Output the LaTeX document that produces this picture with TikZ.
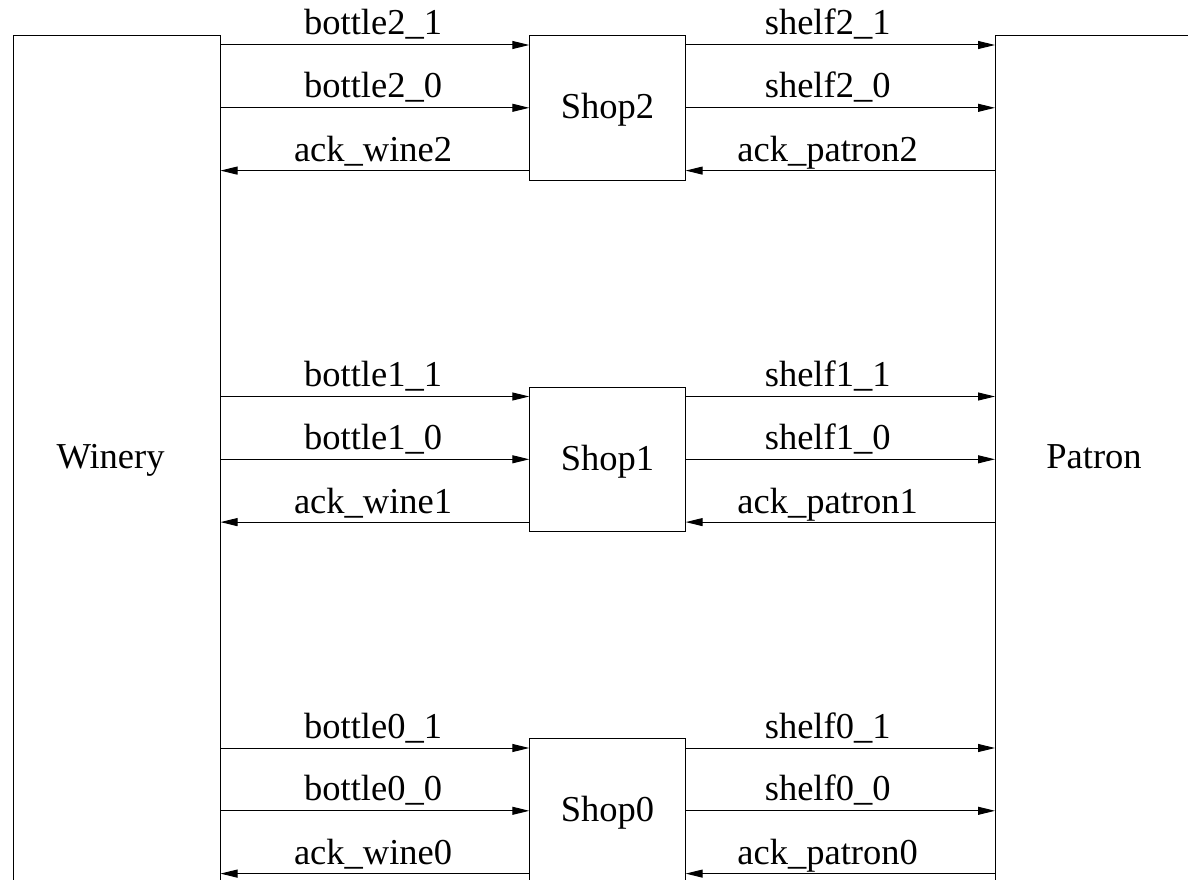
\documentclass[tikz,border=0pt]{standalone}
\usepackage{fontspec}
\setmainfont{Liberation Serif}
\usetikzlibrary{arrows.meta,calc}
\begin{document}
\begin{tikzpicture}[x=1pt,y=-1pt,
  txt/.style={font=\fontsize{36.5pt}{40pt}\selectfont},
  endbox/.style={draw, line width=1pt, inner sep=0pt, anchor=north west, minimum height=900pt},
  shopbox/.style={draw, line width=1pt, inner sep=0pt, anchor=north west,
    minimum width=155.4pt, minimum height=144.6pt, txt, text height=30pt, text depth=8pt},
  title/.style={txt, anchor=base, inner sep=0pt},
  sig/.style={line width=1pt, -{Triangle[length=17pt,width=8pt]}},
  lbl/.style={txt, anchor=base, inner sep=0pt, yshift=10pt}]
\useasboundingbox (0,0) rectangle (1188,880);

% producer and consumer, both running past the page edge
\node[endbox, minimum width=206.8pt] (winery) at (12.7,35) {};
\node[endbox, minimum width=260pt] (patron) at (995,35) {};
\node[title] (wineryname) at (110.5,468.3) {Winery};
\node[title] (patronname) at (1094,468.3) {Patron};

% three shops, each with two data wires in and one ack wire out on each side
\foreach \k/\t in {2/35,1/386.5,0/738}{
  \node[shopbox] (shop\k) at (529.3,\t) {Shop\k};
  \coordinate (la\k) at ([yshift=-10pt]shop\k.north west);
  \coordinate (lb\k) at (shop\k.west);
  \coordinate (lc\k) at ([yshift=10pt]shop\k.south west);
  \coordinate (ra\k) at ([yshift=-10pt]shop\k.north east);
  \coordinate (rb\k) at (shop\k.east);
  \coordinate (rc\k) at ([yshift=10pt]shop\k.south east);
  \draw[sig] (winery.east |- la\k) -- (la\k) node[lbl, pos=.494] {bottle\k\_1};
  \draw[sig] (winery.east |- lb\k) -- (lb\k) node[lbl, pos=.494] {bottle\k\_0};
  \draw[sig] (lc\k) -- (winery.east |- lc\k) node[lbl, pos=.506, yshift=-1pt] {ack\_wine\k};
  \draw[sig] (ra\k) -- (patron.west |- ra\k) node[lbl, pos=.459] {shelf\k\_1};
  \draw[sig] (rb\k) -- (patron.west |- rb\k) node[lbl, pos=.459] {shelf\k\_0};
  \draw[sig] (patron.west |- rc\k) -- (rc\k) node[lbl, pos=.541, yshift=-1pt] {ack\_patron\k};
}
\end{tikzpicture}
\end{document}
